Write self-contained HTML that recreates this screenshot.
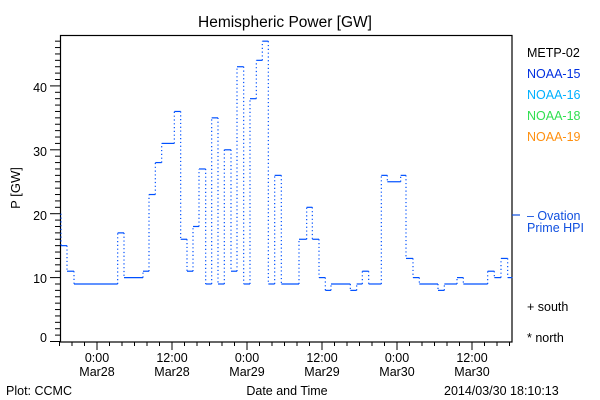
<!DOCTYPE html>
<html><head><meta charset="utf-8"><style>
html,body{margin:0;padding:0;background:#fff;}
svg{display:block;font-family:"Liberation Sans",sans-serif;}
</style></head><body>
<svg id="s" width="600" height="400" viewBox="0 0 600 400" xmlns="http://www.w3.org/2000/svg">
<rect width="600" height="400" fill="#fff"/>
<text x="285" y="27" font-size="15.5" text-anchor="middle">Hemispheric Power [GW]</text>
<rect x="60.5" y="35.5" width="451.5" height="306.5" fill="none" stroke="#000" stroke-width="1.2"/>
<g font-size="12.5" text-anchor="end">
<text x="47" y="342">0</text><text x="47" y="283">10</text><text x="47" y="220">20</text><text x="47" y="156">30</text><text x="47" y="92">40</text>
</g>
<text x="20" y="188" font-size="13" text-anchor="middle" transform="rotate(-90 20 188)">P [GW]</text>
<g font-size="12.5" text-anchor="middle">
<text x="97" y="362">0:00</text><text x="97" y="376">Mar28</text>
<text x="172" y="362">12:00</text><text x="172" y="376">Mar28</text>
<text x="247" y="362">0:00</text><text x="247" y="376">Mar29</text>
<text x="322" y="362">12:00</text><text x="322" y="376">Mar29</text>
<text x="397" y="362">0:00</text><text x="397" y="376">Mar30</text>
<text x="472" y="362">12:00</text><text x="472" y="376">Mar30</text>
<text x="287" y="395">Date and Time</text>
</g>
<text x="6" y="395" font-size="12.5">Plot: CCMC</text>
<text x="444" y="395" font-size="12.5">2014/03/30 18:10:13</text>
<g font-size="12.5">
<text x="527" y="57" fill="#000">METP-02</text>
<text x="527" y="78" fill="#0030e0">NOAA-15</text>
<text x="527" y="99" fill="#00b0ff">NOAA-16</text>
<text x="527" y="120" fill="#30e050">NOAA-18</text>
<text x="527" y="141" fill="#ff9010">NOAA-19</text>
<text x="527" y="220" fill="#1050e0">– Ovation</text>
<text x="527" y="232" fill="#1050e0">Prime HPI</text>
<text x="527" y="311" fill="#000">+ south</text>
<text x="527" y="342" fill="#000">* north</text>
</g>
<line x1="512" y1="215" x2="520" y2="215" stroke="#1050e0" stroke-width="1.2"/>
<g id="ticks" stroke="#000" stroke-width="1"></g>
<g id="data"></g>
</svg>
<script>
var ns="http://www.w3.org/2000/svg";
function L(p,x1,y1,x2,y2,a){var l=document.createElementNS(ns,"line");l.setAttribute("x1",x1);l.setAttribute("y1",y1);l.setAttribute("x2",x2);l.setAttribute("y2",y2);if(a)for(var k in a)l.setAttribute(k,a[k]);p.appendChild(l);}
var t=document.getElementById("ticks");
function Y(v){return 341.5-6.39*v;}
for(var v=0;v<=47;v++){var y=Y(v);L(t,v%10==0?50:55,y,60,y);}
for(var x=59.5;x<=512;x+=12.5){var maj=Math.abs(((x-97)/75)-Math.round((x-97)/75))<0.01;L(t,x,342,x,maj?350:346);}
var d=document.getElementById("data");
var z1=[[18,36,15],[36,57,11],[57,188,9],[188,207,17],[207,264,10],[264,282,11],[282,301,23],[301,320,28],[320,358,31],[358,377,36],[377,396,16],[396,414,11],[414,432,18],[432,452,27],[452,470,9],[470,489,35],[489,508,9],[508,528,30],[528,546,11],[546,566,43],[566,585,9],[585,604,38],[604,622,44],[622,640,47],[640,659,9],[659,679,26],[679,732,9]];
var z2=[[57,80,16],[80,97,21],[97,117,16],[117,136,10],[136,153,8],[153,211,9],[211,230,8],[230,247,9],[247,266,11],[266,304,9],[304,322,26],[322,362,25],[362,378,26],[378,399,13],[399,418,10],[418,474,9],[474,493,8],[493,531,9],[531,550,10],[550,623,9],[623,643,11],[643,663,10],[663,683,13],[683,697,10]];
var segs=[];z1.forEach(function(s){segs.push([55+s[0]/3,55+s[1]/3,s[2]]);});
z2.forEach(function(s){segs.push([280+s[0]/3,280+s[1]/3,s[2]]);});
var c="#0050ff";
L(d,61,Y(20),61,Y(15),{stroke:c,"stroke-width":1.2,"stroke-dasharray":"1.2 2.6"});
for(var i=0;i<segs.length;i++){var s=segs[i];
L(d,s[0],Y(s[2]),s[1],Y(s[2]),{stroke:c,"stroke-width":1.2});
if(i+1<segs.length&&segs[i+1][2]!=s[2]){L(d,s[1],Y(s[2]),s[1],Y(segs[i+1][2]),{stroke:c,"stroke-width":1.2,"stroke-dasharray":"1.2 2.6"});}
}
</script>
</body></html>
